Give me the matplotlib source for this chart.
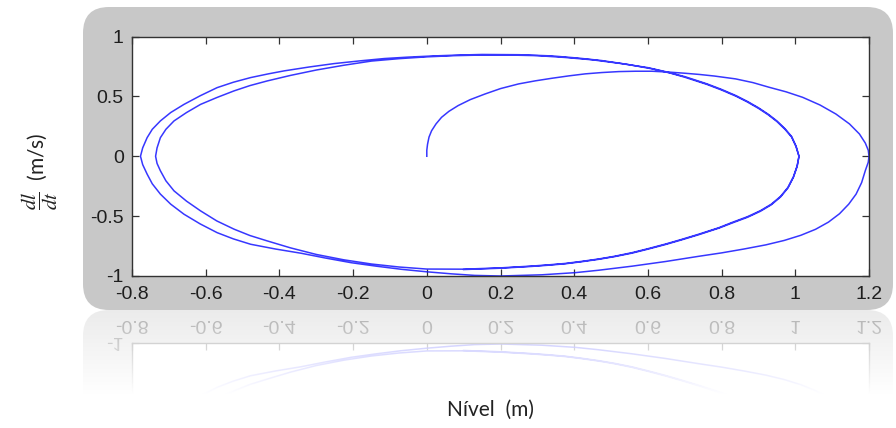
import numpy as np
import matplotlib
matplotlib.use('Agg')
import matplotlib.pyplot as plt
from matplotlib.patches import FancyBboxPatch
from matplotlib.ticker import FuncFormatter

plt.rcParams['axes.unicode_minus'] = False
plt.rcParams['mathtext.fontset'] = 'stix'

# trajectory, one piece per half-turn
# start at the origin and spiral out to the right (1.2)
seg1_x = [0, 0.0, 0.002, 0.006, 0.013, 0.025, 0.04, 0.06, 0.085, 0.118, 0.158, 0.2, 0.249, 0.295, 0.339, 0.385,
          0.43, 0.475, 0.521, 0.566, 0.611, 0.656, 0.701, 0.74, 0.78, 0.838, 0.885, 0.929, 0.975, 1.02, 1.067,
          1.11, 1.147, 1.174, 1.19, 1.198, 1.2]
seg1_y = [0, 0.05, 0.10, 0.16, 0.213, 0.27, 0.325, 0.375, 0.423, 0.473, 0.52, 0.565, 0.604, 0.63, 0.651, 0.671,
          0.688, 0.699, 0.707, 0.71, 0.71, 0.703, 0.693, 0.683, 0.67, 0.646, 0.615, 0.576, 0.538, 0.492, 0.428,
          0.353, 0.27, 0.186, 0.11, 0.05, 0]
# outer lower half, 1.2 -> -0.78
seg2_x = [1.198, 1.19, 1.18, 1.165, 1.145, 1.12, 1.09, 1.055, 1.015, 0.97, 0.92, 0.86, 0.8, 0.739, 0.648, 0.557,
          0.466, 0.403, 0.312, 0.2, 0.13, 0.067, 0.0, -0.069, -0.137, -0.205, -0.275, -0.341, -0.41, -0.478,
          -0.525, -0.569, -0.615, -0.659, -0.695, -0.723, -0.745, -0.759, -0.771, -0.777]
seg2_y = [-0.05, -0.12, -0.22, -0.316, -0.40, -0.48, -0.55, -0.61, -0.66, -0.703, -0.74, -0.775, -0.807, -0.835,
          -0.879, -0.918, -0.952, -0.972, -0.99, -1.0, -0.995, -0.982, -0.965, -0.944, -0.918, -0.889, -0.85,
          -0.81, -0.775, -0.735, -0.69, -0.638, -0.565, -0.484, -0.40, -0.316, -0.23, -0.149, -0.07, 0]
# outer upper half, -0.78 -> 1.0
seg3_x = [-0.771, -0.759, -0.745, -0.723, -0.695, -0.659, -0.615, -0.569, -0.525, -0.478, -0.43, -0.387, -0.32,
          -0.251, -0.18, -0.115, -0.05, 0.02, 0.085, 0.15, 0.25, 0.339, 0.41, 0.475, 0.545, 0.611, 0.66, 0.70,
          0.76, 0.80, 0.84, 0.87, 0.90, 0.927, 0.95, 0.972, 0.99, 1.002, 1.01]
seg3_y = [0.07, 0.155, 0.225, 0.295, 0.365, 0.433, 0.505, 0.573, 0.618, 0.657, 0.688, 0.713, 0.745, 0.774, 0.797,
          0.816, 0.828, 0.838, 0.845, 0.85, 0.848, 0.838, 0.82, 0.799, 0.767, 0.73, 0.695, 0.66, 0.60, 0.553,
          0.50, 0.453, 0.40, 0.345, 0.29, 0.225, 0.16, 0.08, 0]
# inner lower half, 1.0 -> -0.74
seg4_x = [1.005, 0.995, 0.98, 0.96, 0.935, 0.905, 0.87, 0.829, 0.793, 0.738, 0.693, 0.648, 0.6, 0.557, 0.51, 0.466,
          0.42, 0.376, 0.33, 0.285, 0.2, 0.1, 0.0, -0.075, -0.15, -0.225, -0.3, -0.37, -0.433, -0.48, -0.523,
          -0.57, -0.614, -0.652, -0.686, -0.708, -0.723, -0.732, -0.736]
seg4_y = [-0.08, -0.17, -0.26, -0.335, -0.40, -0.455, -0.505, -0.552, -0.596, -0.651, -0.693, -0.733, -0.772,
          -0.805, -0.835, -0.858, -0.878, -0.895, -0.907, -0.917, -0.932, -0.943, -0.942, -0.925, -0.9, -0.865,
          -0.82, -0.765, -0.707, -0.662, -0.609, -0.54, -0.456, -0.375, -0.289, -0.205, -0.121, -0.06, 0]
# inner upper half, -0.74 -> 1.0
seg5_x = [-0.732, -0.723, -0.708, -0.686, -0.652, -0.614, -0.57, -0.523, -0.48, -0.433, -0.37, -0.3, -0.225,
          -0.15, -0.075, 0.0, 0.075, 0.15, 0.225, 0.3, 0.375, 0.45, 0.525, 0.6, 0.65, 0.70, 0.76, 0.80, 0.84,
          0.87, 0.90, 0.927, 0.95, 0.972, 0.99, 1.002, 1.01]
seg5_y = [0.07, 0.155, 0.225, 0.295, 0.365, 0.433, 0.49, 0.546, 0.59, 0.629, 0.675, 0.72, 0.76, 0.795, 0.815,
          0.83, 0.84, 0.845, 0.845, 0.84, 0.825, 0.805, 0.775, 0.74, 0.705, 0.665, 0.605, 0.558, 0.505, 0.458,
          0.405, 0.35, 0.295, 0.23, 0.165, 0.085, 0]
# last bit going down again
seg6_x = [1.005, 0.995, 0.98, 0.96, 0.935, 0.905, 0.87, 0.829, 0.793, 0.738, 0.693, 0.648, 0.6, 0.557, 0.51, 0.466,
          0.42, 0.376, 0.33, 0.285, 0.2, 0.1]
seg6_y = [-0.085, -0.175, -0.265, -0.34, -0.405, -0.46, -0.51, -0.557, -0.6, -0.655, -0.697, -0.737, -0.776,
          -0.809, -0.838, -0.861, -0.881, -0.898, -0.91, -0.92, -0.935, -0.946]

xticks = [-0.8, -0.6, -0.4, -0.2, 0, 0.2, 0.4, 0.6, 0.8, 1, 1.2]
yticks = [-1, -0.5, 0, 0.5, 1]

level = np.concatenate([seg1_x, seg2_x, seg3_x, seg4_x, seg5_x, seg6_x])
dlevel = np.concatenate([seg1_y, seg2_y, seg3_y, seg4_y, seg5_y, seg6_y])

W, H = 896, 428
fig = plt.figure(figsize=(W / 100, H / 100), dpi=100, facecolor='white')

# grey rounded panel behind the axes (inches)
box_bottom = 310
panel = FancyBboxPatch((0.83, (H - box_bottom) / 100), 8.10, 3.03,
                       boxstyle='round,pad=0,rounding_size=0.26',
                       transform=fig.dpi_scale_trans, facecolor='#c8c8c8',
                       edgecolor='none', zorder=-1)
fig.add_artist(panel)

ax = fig.add_axes([132 / W, (H - 276) / H, (869 - 132) / W, (276 - 36.5) / H])
ax.set_facecolor('white')
ax.plot(level, dlevel, color='#1414ff', lw=1.1, alpha=0.85, solid_joinstyle='round')
ax.set_xlim(-0.8, 1.2)
ax.set_ylim(-1, 1)
ax.set_xticks(xticks)
ax.set_yticks(yticks)
fmt = FuncFormatter(lambda v, p: '%g' % round(v, 2))
ax.xaxis.set_major_formatter(fmt)
ax.yaxis.set_major_formatter(fmt)
ax.tick_params(direction='in', top=True, right=True, length=5, width=0.9,
               color='#333333', labelsize=14, labelcolor='#1e1e1e')
ax.tick_params(axis='x', pad=7)
ax.tick_params(axis='y', pad=6)
for lab in ax.get_xticklabels() + ax.get_yticklabels():
    lab.set_family('Liberation Sans')
for s in ax.spines.values():
    s.set_color('#333333')
    s.set_linewidth(1.0)

fig.text(40 / W, 1 - 171 / H, r'$\dfrac{dl}{dt}$  (m/s)', rotation=90,
         ha='center', va='center', fontsize=15, family='Lato', color='#222222')
fig.text(490 / W, 1 - 410 / H, 'Nível  (m)', ha='center', va='center',
         fontsize=15, family='Lato', color='#222222')

# mirror the bottom strip of the panel to get the faded reflection
fig.canvas.draw()
buf = np.asarray(fig.canvas.buffer_rgba()).astype(float) / 255.0
n = 85
strip = buf[box_bottom - n:box_bottom][::-1].copy()
strip[..., 3] = np.linspace(0.36, 0.0, n)[:, None]
fig.figimage(strip, xo=0, yo=H - box_bottom - n, origin='upper', zorder=10)

fig.savefig('out.png', dpi=100, facecolor='white')
